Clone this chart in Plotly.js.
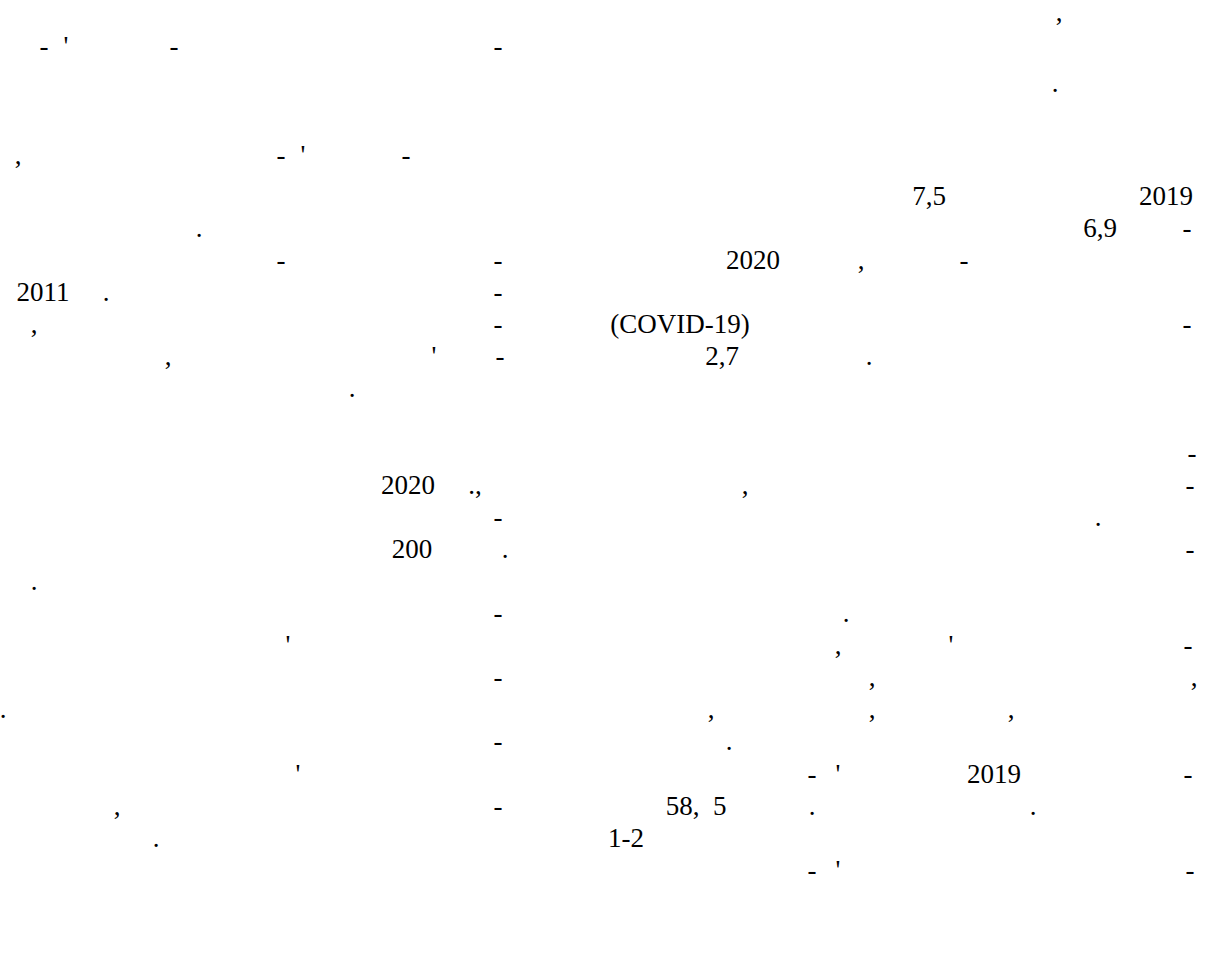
<!DOCTYPE html>
<html>
<head>
<meta charset="utf-8">
<script src="https://cdn.plot.ly/plotly-3.0.1.min.js"></script>
<style>
  html, body { margin: 0; padding: 0; background: #ffffff; }
  #chart { width: 1215px; height: 971px; }
</style>
</head>
<body>
<div id="chart"></div>
<script>
// Visible text fragments of the page (only the glyphs that were rendered)
var fragments = [
  ",",
  "-", "'", "-", "-",
  ".",
  ",", "-", "'", "-",
  "7,5", "2019",
  ".", "6,9", "-",
  "-", "-", "2020", ",", "-",
  "2011", ".", "-",
  ",", "-", "(COVID-19)", "-",
  ",", "'", "-", "2,7", ".",
  ".",
  "-",
  "2020", ".,", ",", "-",
  "-", ".",
  "200", ".", "-",
  ".",
  "-", ".",
  "'", ",", "'", "-",
  "-", ",", ",",
  ".", ",", ",", ",",
  "-", ".",
  "'", "-", "'", "2019", "-",
  ",", "-", "58,  5", ".", ".",
  ".", "1-2",
  "-", "'", "-"
];
// horizontal centre of each fragment (page pixels)
var fragX = [
  1059,
  44, 66, 174, 498,
  1055,
  18, 281, 303, 406,
  929, 1166,
  199, 1100, 1187,
  281, 498, 753, 861, 964,
  43, 106, 498,
  34, 498, 680, 1187,
  168, 434, 500, 722, 869,
  352,
  1192,
  408, 475, 745, 1190,
  498, 1098,
  412, 505, 1190,
  34,
  498, 846,
  288, 838, 951, 1188,
  498, 872, 1194,
  3, 711, 872, 1011,
  498, 729,
  298, 812, 838, 994, 1188,
  117, 498, 696, 812, 1033,
  156, 626,
  812, 838, 1190
];
// text line number of each fragment
var fragLine = [
  1,
  2, 2, 2, 2,
  3,
  4, 4, 4, 4,
  5, 5,
  6, 6, 6,
  7, 7, 7, 7, 7,
  8, 8, 8,
  9, 9, 9, 9,
  10, 10, 10, 10, 10,
  11,
  13,
  14, 14, 14, 14,
  15, 15,
  16, 16, 16,
  17,
  18, 18,
  19, 19, 19, 19,
  20, 20, 20,
  21, 21, 21, 21,
  22, 22,
  23, 23, 23, 23, 23,
  24, 24, 24, 24, 24,
  25, 25,
  26, 26, 26
];
// vertical centre of each text line (page pixels)
var lineY = {1: 12, 2: 46, 3: 83, 4: 155};
for (var i = 5; i <= 26; i++) { lineY[i] = 196 + (i - 5) * 32.1; }

var fragY = fragLine.map(function (l) { return lineY[l] + 2; });

var trace = {
  type: 'scatter',
  mode: 'text',
  x: fragX,
  y: fragY,
  text: fragments,
  textposition: 'middle center',
  textfont: { family: 'Liberation Serif', size: 27, color: '#000000' },
  hoverinfo: 'skip',
  showlegend: false,
  cliponaxis: false
};

var layout = {
  width: 1215,
  height: 971,
  margin: { l: 0, r: 0, t: 0, b: 0, pad: 0 },
  paper_bgcolor: '#ffffff',
  plot_bgcolor: '#ffffff',
  font: { family: 'Liberation Serif' },
  xaxis: { range: [0, 1215], visible: false, fixedrange: true },
  yaxis: { range: [971, 0], visible: false, fixedrange: true },
  showlegend: false
};

Plotly.newPlot('chart', [trace], layout, { displayModeBar: false, staticPlot: true });
</script>
</body>
</html>
